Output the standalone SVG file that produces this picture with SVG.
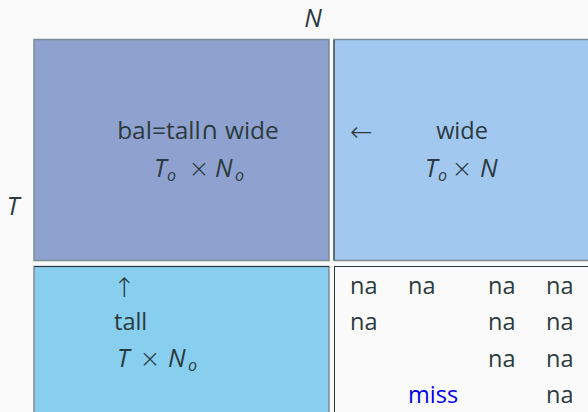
<svg xmlns="http://www.w3.org/2000/svg" width="588" height="412" viewBox="0 0 588 412">
<style>
text{font-family:"Open Sans","Noto Sans","DejaVu Sans",sans-serif;font-size:23.5px;fill:#2b3a3e}
.it{font-style:italic;font-size:25px}
.sub{font-size:16px;font-style:italic}
.x{font-family:"DejaVu Sans",sans-serif;font-size:25px;font-weight:300;text-anchor:middle}
.arr{font-family:"DejaVu Sans",sans-serif;font-size:27px;font-weight:300}
.miss{fill:#0000ee}
.c{text-anchor:middle}
</style>
<rect x="0" y="0" width="588" height="412" fill="#fafafa"/>
<g id="axis-N"><text class="it c" x="313" y="27">N</text></g>
<g id="axis-T"><text class="it c" x="13" y="215">T</text></g>
<g id="bal">
<rect x="34" y="39.5" width="295" height="221" fill="#8fa2cf" stroke="#7d8a92" stroke-width="1.5"/>
<text class="c" x="198" y="139" style="font-size:24.5px">bal=tall∩ wide</text>
<text x="154" y="177" class="it">T</text><text x="167" y="181" class="sub">o</text>
<text x="199" y="177" class="x">×</text>
<text x="215" y="177" class="it">N</text><text x="235" y="181" class="sub">o</text>
</g>
<g id="wide">
<rect x="334" y="39.5" width="260" height="221" fill="#a2c8f0" stroke="#7d8a92" stroke-width="1.5"/>
<line x1="334" y1="40" x2="334" y2="260" stroke="#2b3a3e" stroke-width="1"/>
<text class="arr" x="350" y="141">←</text>
<text class="c" x="462" y="139">wide</text>
<text x="425" y="177" class="it">T</text><text x="438" y="181" class="sub">o</text>
<text x="462" y="177" class="x">×</text>
<text x="480" y="177" class="it">N</text>
</g>
<g id="tall">
<rect x="34" y="266.5" width="295" height="150" fill="#88ceee" stroke="#7d8a92" stroke-width="1.5"/>
<line x1="34" y1="266.5" x2="329" y2="266.5" stroke="#2b3a3e" stroke-width="1"/>
<text class="arr" x="113" y="297">↑</text>
<text x="114" y="330">tall</text>
<text x="117" y="367" class="it">T</text>
<text x="150" y="367" class="x">×</text>
<text x="168" y="367" class="it">N</text><text x="188" y="371" class="sub">o</text>
</g>
<g id="data">
<rect x="334.5" y="266.5" width="260" height="150" fill="#fafafa" stroke="#2b3a3e" stroke-width="1"/>
<text x="350" y="294">na</text><text x="408" y="294">na</text><text x="488" y="294">na</text><text x="546" y="294">na</text>
<text x="350" y="330">na</text><text x="488" y="330">na</text><text x="546" y="330">na</text>
<text x="488" y="367">na</text><text x="546" y="367">na</text>
<text class="miss" x="408" y="403">miss</text><text x="546" y="403">na</text>
</g>
<g id="connectors"></g>
</svg>
